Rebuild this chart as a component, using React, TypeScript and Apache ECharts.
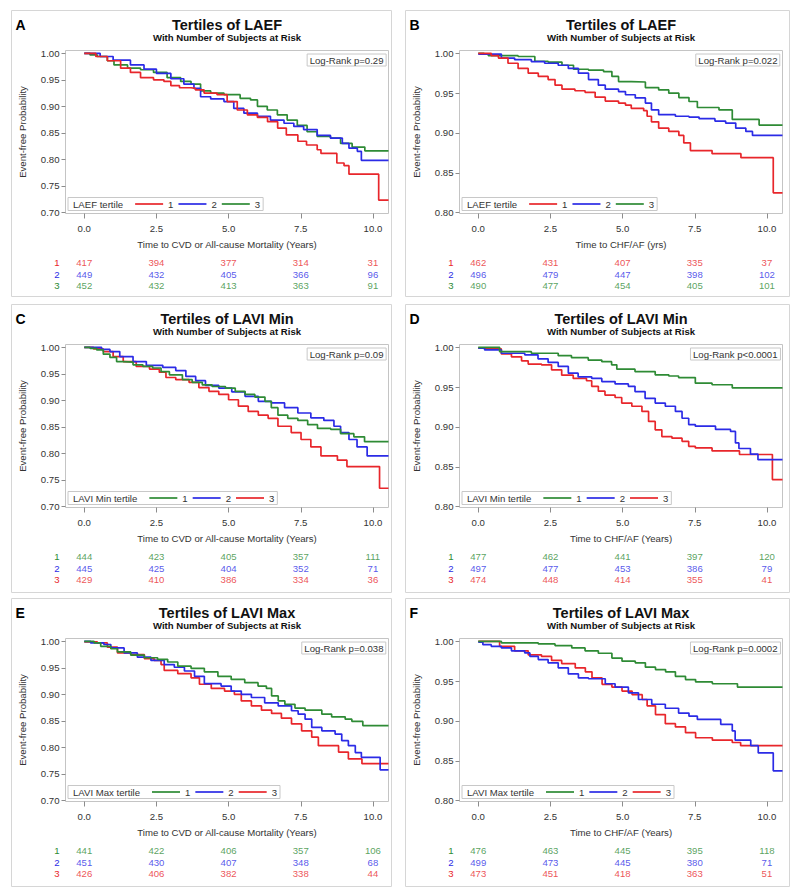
import React, { useEffect, useRef } from "react";
import * as echarts from "echarts";

type Pt = [number, number];

// ---------- axis ticks / categories ----------
const xTicks = [0, 2.5, 5, 7.5, 10];
const riskTimes = [0, 2.5, 5, 7.5, 10];
const yTicksCvd = [0.7, 0.75, 0.8, 0.85, 0.9, 0.95, 1.0];
const yTicksHf = [0.8, 0.85, 0.9, 0.95, 1.0];
const groupLabels = ["1", "2", "3"];

// ---------- Panel A: LAEF, CVD / all-cause mortality ----------
const laefCvd1: Pt[] = [[0,1],[0.4,0.994],[0.8,0.986],[1.26,0.972],[1.6,0.964],[1.95,0.954],[2.4,0.95],[2.76,0.947],[3.0,0.939],[3.3,0.935],[3.7,0.934],[3.85,0.931],[4.15,0.925],[4.6,0.922],[4.95,0.909],[5.3,0.893],[5.65,0.884],[6.0,0.879],[6.35,0.871],[6.7,0.859],[7.0,0.846],[7.4,0.834],[7.7,0.827],[8.07,0.818],[8.2,0.811],[8.75,0.793],[9.0,0.788],[9.17,0.772],[10.2,0.723],[10.54,0.723]];
const laefCvd2: Pt[] = [[0,1],[0.55,0.994],[1.0,0.987],[1.6,0.978],[2.07,0.97],[2.5,0.962],[3.0,0.952],[3.45,0.942],[3.8,0.934],[4.03,0.918],[4.38,0.914],[4.84,0.909],[5.18,0.896],[5.53,0.887],[6.0,0.881],[6.45,0.874],[6.92,0.868],[7.26,0.862],[7.6,0.856],[8.07,0.845],[8.53,0.84],[8.94,0.83],[9.17,0.821],[9.46,0.815],[9.6,0.798],[10.54,0.798]];
const laefCvd3: Pt[] = [[0,1],[0.2,0.997],[0.45,0.994],[0.8,0.986],[1.03,0.978],[1.5,0.972],[1.95,0.969],[2.4,0.964],[2.87,0.954],[3.34,0.947],[3.7,0.942],[4.03,0.929],[4.38,0.925],[4.84,0.922],[5.4,0.915],[5.76,0.912],[6.0,0.9],[6.34,0.893],[6.69,0.884],[7.03,0.874],[7.38,0.864],[7.72,0.852],[8.07,0.843],[8.53,0.84],[8.88,0.83],[9.28,0.823],[9.72,0.816],[10.54,0.816]];
const laefCvdRisk1 = [417, 394, 377, 314, 31];
const laefCvdRisk2 = [449, 432, 405, 366, 96];
const laefCvdRisk3 = [452, 432, 413, 363, 91];

// ---------- Panel B: LAEF, CHF/AF ----------
const laefHf1: Pt[] = [[0,1],[0.45,0.997],[0.7,0.994],[1.03,0.9875],[1.38,0.981],[1.73,0.975],[2.08,0.971],[2.42,0.967],[2.66,0.96],[2.9,0.955],[3.35,0.953],[3.7,0.951],[4.05,0.945],[4.4,0.94],[4.86,0.9375],[5.1,0.935],[5.3,0.931],[5.73,0.928],[5.85,0.921],[6.0,0.914],[6.25,0.906],[6.6,0.902],[6.95,0.897],[7.12,0.8875],[7.35,0.878],[8.1,0.874],[9.1,0.869],[10.22,0.825],[10.54,0.825]];
const laefHf2: Pt[] = [[0,0.999],[0.8,0.994],[1.26,0.992],[1.84,0.9895],[2.3,0.9875],[2.77,0.985],[3.12,0.981],[3.47,0.975],[3.82,0.967],[4.16,0.96],[4.4,0.955],[4.86,0.952],[5.1,0.948],[5.44,0.944],[5.79,0.9375],[6.0,0.929],[6.25,0.923],[6.83,0.921],[7.3,0.92],[7.65,0.918],[8.2,0.915],[8.57,0.9125],[8.92,0.906],[9.27,0.902],[9.5,0.897],[10.54,0.897]];
const laefHf3: Pt[] = [[0,1],[0.2,0.999],[0.35,0.997],[1.38,0.996],[1.96,0.99],[2.42,0.989],[2.9,0.985],[3.3,0.98],[3.82,0.979],[4.34,0.977],[4.63,0.971],[4.86,0.9645],[5.3,0.964],[5.79,0.957],[6.25,0.954],[6.6,0.95],[6.95,0.9445],[7.3,0.9395],[7.59,0.932],[8.34,0.929],[8.8,0.917],[9.73,0.91],[10.54,0.91]];
const laefHfRisk1 = [462, 431, 407, 335, 37];
const laefHfRisk2 = [496, 479, 447, 398, 102];
const laefHfRisk3 = [490, 477, 454, 405, 101];

// ---------- Panel C: LAVI Min, CVD / all-cause mortality ----------
const laviMinCvd1: Pt[] = [[0,1],[0.2,0.998],[0.43,0.995],[0.66,0.987],[0.89,0.981],[1.12,0.973],[1.35,0.972],[1.69,0.967],[2.03,0.964],[2.37,0.961],[2.66,0.954],[2.95,0.948],[3.4,0.939],[3.74,0.934],[4.09,0.929],[4.43,0.926],[4.89,0.923],[5.23,0.917],[5.57,0.911],[5.91,0.906],[6.26,0.898],[6.48,0.886],[6.71,0.872],[7.05,0.866],[7.4,0.862],[7.74,0.854],[8.08,0.847],[8.54,0.845],[8.88,0.837],[9.34,0.831],[9.71,0.822],[10.54,0.822]];
const laviMinCvd2: Pt[] = [[0,1],[0.6,0.996],[0.89,0.992],[1.23,0.9825],[1.69,0.973],[2.15,0.966],[2.72,0.962],[3.17,0.956],[3.52,0.945],[3.86,0.937],[4.2,0.928],[4.66,0.923],[5.11,0.916],[5.57,0.9075],[6.03,0.898],[6.48,0.895],[6.94,0.886],[7.4,0.876],[7.85,0.867],[8.3,0.862],[8.65,0.851],[8.88,0.839],[9.17,0.826],[9.45,0.812],[9.8,0.795],[10.54,0.795]];
const laviMinCvd3: Pt[] = [[0,1],[0.32,0.997],[0.66,0.992],[1.0,0.9825],[1.35,0.973],[1.8,0.964],[2.26,0.959],[2.6,0.953],[2.83,0.943],[3.17,0.939],[3.63,0.934],[3.97,0.924],[4.32,0.917],[4.66,0.911],[5.0,0.901],[5.34,0.889],[5.68,0.879],[6.03,0.872],[6.37,0.866],[6.71,0.851],[7.17,0.839],[7.51,0.826],[7.85,0.812],[8.2,0.795],[8.77,0.787],[9.1,0.775],[10.23,0.734],[10.54,0.734]];
const laviMinCvdRisk1 = [444, 423, 405, 357, 111];
const laviMinCvdRisk2 = [445, 425, 404, 352, 71];
const laviMinCvdRisk3 = [429, 410, 386, 334, 36];

// ---------- Panel D: LAVI Min, CHF/AF ----------
const laviMinHf1: Pt[] = [[0,1],[0.74,0.9945],[1.84,0.9925],[2.77,0.9895],[3.23,0.987],[3.81,0.984],[4.28,0.982],[4.62,0.978],[4.8,0.9725],[5.43,0.9695],[6.13,0.9655],[6.6,0.964],[6.94,0.962],[7.52,0.955],[8.1,0.953],[8.8,0.949],[10.54,0.949]];
const laviMinHf2: Pt[] = [[0,0.999],[0.22,0.9967],[0.8,0.9925],[1.61,0.9905],[2.07,0.9855],[2.42,0.981],[2.77,0.976],[3.12,0.9675],[3.46,0.963],[3.93,0.961],[4.28,0.957],[4.74,0.954],[5.2,0.951],[5.43,0.9445],[5.78,0.936],[6.13,0.93],[6.48,0.926],[6.83,0.9195],[7.06,0.911],[7.29,0.903],[7.52,0.901],[8.22,0.897],[8.74,0.8945],[8.91,0.88],[9.03,0.873],[9.43,0.866],[9.69,0.859],[10.54,0.859]];
const laviMinHf3: Pt[] = [[0,0.999],[0.45,0.998],[0.8,0.9917],[1.15,0.988],[1.5,0.983],[1.73,0.979],[2.19,0.978],[2.54,0.9717],[2.89,0.965],[3.29,0.961],[3.75,0.958],[3.93,0.951],[4.16,0.945],[4.39,0.94],[4.74,0.937],[4.97,0.93],[5.32,0.926],[5.67,0.9195],[5.9,0.907],[6.13,0.8965],[6.36,0.888],[6.71,0.886],[7.06,0.882],[7.29,0.8757],[7.52,0.8737],[8.1,0.87],[9.05,0.8655],[10.19,0.834],[10.54,0.834]];
const laviMinHfRisk1 = [477, 462, 441, 397, 120];
const laviMinHfRisk2 = [497, 477, 453, 386, 79];
const laviMinHfRisk3 = [474, 448, 414, 355, 41];

// ---------- Panel E: LAVI Max, CVD / all-cause mortality ----------
const laviMaxCvd1: Pt[] = [[0,1],[0.34,0.997],[0.57,0.9906],[0.92,0.986],[1.15,0.98],[1.61,0.974],[2.08,0.969],[2.54,0.966],[2.89,0.961],[3.24,0.953],[3.7,0.949],[4.16,0.9425],[4.63,0.934],[5.09,0.928],[5.56,0.922],[6.02,0.9156],[6.31,0.911],[6.49,0.897],[6.72,0.8875],[6.95,0.881],[7.3,0.874],[7.65,0.87],[8.23,0.8625],[8.57,0.8575],[9.04,0.853],[9.27,0.849],[9.65,0.841],[10.54,0.841]];
const laviMaxCvd2: Pt[] = [[0,1],[0.22,0.997],[0.68,0.994],[0.92,0.9875],[1.38,0.978],[1.84,0.97],[2.31,0.964],[2.77,0.956],[3.12,0.951],[3.47,0.944],[3.82,0.934],[4.16,0.92],[4.74,0.9156],[5.09,0.906],[5.44,0.9],[5.79,0.894],[6.25,0.884],[6.72,0.878],[7.18,0.869],[7.41,0.8625],[7.65,0.853],[7.88,0.8375],[8.23,0.831],[8.69,0.825],[8.92,0.8125],[9.15,0.803],[9.39,0.79],[9.6,0.781],[10.25,0.7575],[10.54,0.7575]];
const laviMaxCvd3: Pt[] = [[0,0.999],[0.45,0.997],[0.8,0.989],[1.15,0.978],[1.61,0.975],[2.08,0.9675],[2.42,0.964],[2.66,0.956],[2.77,0.945],[3.24,0.939],[3.7,0.931],[3.99,0.919],[4.4,0.911],[4.86,0.906],[5.2,0.9],[5.44,0.8875],[5.79,0.878],[6.14,0.87],[6.49,0.864],[6.83,0.855],[7.18,0.844],[7.53,0.831],[7.88,0.819],[8.11,0.803],[8.81,0.791],[9.15,0.778],[9.62,0.769],[10.54,0.769]];
const laviMaxCvdRisk1 = [441, 422, 406, 357, 106];
const laviMaxCvdRisk2 = [451, 430, 407, 348, 68];
const laviMaxCvdRisk3 = [426, 406, 382, 338, 44];

// ---------- Panel F: LAVI Max, CHF/AF ----------
const laviMaxHf1: Pt[] = [[0,1],[0.8,0.998],[2.08,0.9967],[2.66,0.9946],[3.24,0.9917],[3.7,0.988],[4.16,0.985],[4.63,0.979],[4.98,0.975],[5.44,0.973],[5.79,0.9675],[6.14,0.9645],[6.49,0.9617],[6.83,0.956],[7.18,0.952],[7.53,0.949],[8.11,0.9467],[8.98,0.9425],[10.54,0.9425]];
const laviMaxHf2: Pt[] = [[0,0.999],[0.16,0.9958],[0.45,0.9937],[0.8,0.9917],[1.15,0.988],[1.61,0.9854],[1.79,0.981],[2.08,0.977],[2.42,0.973],[2.77,0.9667],[3.12,0.959],[3.47,0.954],[3.82,0.953],[4.4,0.9467],[4.74,0.9425],[5.2,0.9354],[5.55,0.927],[6.01,0.921],[6.48,0.916],[6.94,0.91],[7.3,0.906],[7.59,0.902],[8.4,0.8958],[8.8,0.8875],[8.9,0.876],[9.44,0.869],[9.7,0.86],[10.22,0.8375],[10.54,0.8375]];
const laviMaxHf3: Pt[] = [[0,1],[0.74,0.9937],[1.26,0.988],[1.73,0.983],[2.19,0.981],[2.54,0.976],[2.89,0.972],[3.36,0.9667],[3.71,0.9617],[3.94,0.954],[4.29,0.946],[4.63,0.9425],[4.98,0.9375],[5.33,0.933],[5.68,0.927],[5.85,0.919],[6.14,0.908],[6.48,0.8967],[6.83,0.8925],[7.18,0.8854],[7.53,0.879],[8.11,0.876],[8.8,0.873],[9.09,0.869],[10.54,0.869]];
const laviMaxHfRisk1 = [476, 463, 445, 395, 118];
const laviMaxHfRisk2 = [499, 473, 445, 380, 71];
const laviMaxHfRisk3 = [473, 451, 418, 363, 51];

// ---------- styling ----------
const RED = "#e8262b";
const BLUE = "#2b2be6";
const GREEN = "#2e8b35";
const FONT = '"Liberation Sans", Arial, Helvetica, sans-serif';
const SMALL = 9.6;
const TXT = "#333333";

const cols = [
  { px: 11.5, pw: 380, l: 65.5, r: 388.5 },
  { px: 405.5, pw: 384, l: 459.5, r: 782.5 },
];
const rows = [
  { py: 10.5, ph: 286, t: 50.5, b: 213.5 },
  { py: 304.5, ph: 288, t: 344.5, b: 507.5 },
  { py: 598.5, ph: 288, t: 638.5, b: 801.5 },
];
const X_MIN = -0.65;
const X_MAX = 10.54;

const CVD = "Time to CVD or All-cause Mortality (Years)";

const panels = [
  { id: "A", col: 0, row: 0, title: "Tertiles of LAEF", legendTitle: "LAEF tertile", xName: CVD, logRank: "Log-Rank p=0.29", yMin: 0.6977, yMax: 1.0053, yTicks: yTicksCvd, curves: [laefCvd1, laefCvd2, laefCvd3], colors: [RED, BLUE, GREEN], risk: [laefCvdRisk1, laefCvdRisk2, laefCvdRisk3] },
  { id: "B", col: 1, row: 0, title: "Tertiles of LAEF", legendTitle: "LAEF tertile", xName: "Time to CHF/AF (yrs)", logRank: "Log-Rank p=0.022", yMin: 0.799, yMax: 1.0035, yTicks: yTicksHf, curves: [laefHf1, laefHf2, laefHf3], colors: [RED, BLUE, GREEN], risk: [laefHfRisk1, laefHfRisk2, laefHfRisk3] },
  { id: "C", col: 0, row: 1, title: "Tertiles of LAVI Min", legendTitle: "LAVI Min tertile", xName: CVD, logRank: "Log-Rank p=0.09", yMin: 0.6977, yMax: 1.0053, yTicks: yTicksCvd, curves: [laviMinCvd1, laviMinCvd2, laviMinCvd3], colors: [GREEN, BLUE, RED], risk: [laviMinCvdRisk1, laviMinCvdRisk2, laviMinCvdRisk3] },
  { id: "D", col: 1, row: 1, title: "Tertiles of LAVI Min", legendTitle: "LAVI Min tertile", xName: "Time to CHF/AF (Years)", logRank: "Log-Rank p<0.0001", yMin: 0.799, yMax: 1.0035, yTicks: yTicksHf, curves: [laviMinHf1, laviMinHf2, laviMinHf3], colors: [GREEN, BLUE, RED], risk: [laviMinHfRisk1, laviMinHfRisk2, laviMinHfRisk3] },
  { id: "E", col: 0, row: 2, title: "Tertiles of LAVI Max", legendTitle: "LAVI Max tertile", xName: CVD, logRank: "Log-Rank p=0.038", yMin: 0.6977, yMax: 1.0053, yTicks: yTicksCvd, curves: [laviMaxCvd1, laviMaxCvd2, laviMaxCvd3], colors: [GREEN, BLUE, RED], risk: [laviMaxCvdRisk1, laviMaxCvdRisk2, laviMaxCvdRisk3] },
  { id: "F", col: 1, row: 2, title: "Tertiles of LAVI Max", legendTitle: "LAVI Max tertile", xName: "Time to CHF/AF (Years)", logRank: "Log-Rank p=0.0002", yMin: 0.799, yMax: 1.0035, yTicks: yTicksHf, curves: [laviMaxHf1, laviMaxHf2, laviMaxHf3], colors: [GREEN, BLUE, RED], risk: [laviMaxHfRisk1, laviMaxHfRisk2, laviMaxHfRisk3] },
];

function measure(text: string, size: number, weight = "normal"): number {
  const cv = document.createElement("canvas");
  const ctx = cv.getContext("2d");
  if (!ctx) return text.length * size * 0.5;
  ctx.font = `${weight} ${size}px ${FONT}`;
  return ctx.measureText(text).width;
}

function buildOption(): any {
  const grid: any[] = [];
  const xAxis: any[] = [];
  const yAxis: any[] = [];
  const series: any[] = [];
  const legend: any[] = [];
  const title: any[] = [];
  const graphic: any[] = [];

  panels.forEach((p) => {
    const c = cols[p.col];
    const r = rows[p.row];
    const w = c.r - c.l;
    const h = r.b - r.t;
    const cx = (c.l + c.r) / 2;

    // panel frame
    graphic.push({
      type: "rect",
      silent: true,
      shape: { x: c.px, y: r.py, width: c.pw, height: r.ph },
      style: { fill: "none", stroke: "#d6d6d6", lineWidth: 1 },
      z: 0,
    });
    // panel letter
    graphic.push({
      type: "text",
      silent: true,
      x: c.px + 4,
      y: r.py + 14,
      style: { text: p.id, fill: "#000", fontSize: 14, fontWeight: "bold", fontFamily: FONT, align: "left", verticalAlign: "middle" },
    });

    // main title + subtitle
    title.push({
      text: p.title,
      subtext: "With Number of Subjects at Risk",
      left: cx,
      top: r.py + 7,
      textAlign: "center",
      textVerticalAlign: "top",
      padding: 0,
      itemGap: 0,
      textStyle: { fontSize: 14.5, fontWeight: "bold", color: "#111", fontFamily: FONT },
      subtextStyle: { fontSize: SMALL, fontWeight: "bold", color: "#111", fontFamily: FONT },
    });
    // log-rank box
    title.push({
      text: p.logRank,
      right: 800 - (c.r - 2),
      top: r.t + 3.5,
      textAlign: "left",
      textVerticalAlign: "top",
      padding: [1.5, 3, 1, 3],
      borderColor: "#c8c8c8",
      borderWidth: 1,
      textStyle: { fontSize: SMALL, fontWeight: "normal", color: TXT, fontFamily: FONT },
    });

    // plot grid
    const gi = grid.length;
    grid.push({ left: c.l, top: r.t, width: w, height: h, show: true, borderColor: "#c4c4c4", borderWidth: 1, backgroundColor: "transparent" });
    xAxis.push({
      type: "value",
      gridIndex: gi,
      position: "bottom",
      min: X_MIN,
      max: X_MAX,
      name: p.xName,
      nameLocation: "middle",
      nameGap: 25.5,
      nameTextStyle: { fontSize: SMALL, color: TXT, fontFamily: FONT },
      axisLine: { show: false, onZero: false },
      axisTick: { show: true, length: 5, lineStyle: { color: "#8c8c8c" }, customValues: xTicks },
      axisLabel: { customValues: xTicks, formatter: (v: number) => v.toFixed(1), fontSize: SMALL, color: TXT, margin: 10, fontFamily: FONT },
      splitLine: { show: false },
      minorTick: { show: false },
    });
    yAxis.push({
      type: "value",
      gridIndex: gi,
      position: "left",
      min: p.yMin,
      max: p.yMax,
      name: "Event-free Probability",
      nameLocation: "middle",
      nameRotate: 90,
      nameGap: 38.5,
      nameTextStyle: { fontSize: SMALL, color: TXT, fontFamily: FONT },
      axisLine: { show: false, onZero: false },
      axisTick: { show: true, length: 4, lineStyle: { color: "#8c8c8c" }, customValues: p.yTicks },
      axisLabel: { customValues: p.yTicks, formatter: (v: number) => v.toFixed(2), fontSize: SMALL, color: TXT, margin: 6, fontFamily: FONT },
      splitLine: { show: false },
    });
    p.curves.forEach((d, k) => {
      series.push({
        type: "line",
        name: `${p.id}-${groupLabels[k]}`,
        xAxisIndex: gi,
        yAxisIndex: gi,
        data: d,
        step: "end",
        symbol: "none",
        showSymbol: false,
        lineStyle: { color: p.colors[k], width: 1.7 },
        itemStyle: { color: p.colors[k] },
        silent: true,
        z: 3 - k,
      });
    });

    // legend
    const legTop = r.b - 2 - 14;
    const legLeft = c.l + 2.5;
    const tw = measure(p.legendTitle, SMALL);
    legend.push({
      left: legLeft,
      top: legTop,
      data: groupLabels.map((g) => `${p.id}-${g}`),
      formatter: (n: string) => n.split("-")[1],
      orient: "horizontal",
      icon: "rect",
      itemWidth: 28,
      itemHeight: 1.7,
      itemGap: 5,
      padding: [1, 3, 1, 5 + tw + 12],
      borderColor: "#c8c8c8",
      borderWidth: 1,
      backgroundColor: "#ffffff",
      selectedMode: false,
      textStyle: { fontSize: SMALL, color: TXT, fontFamily: FONT, lineHeight: 11 },
    });
    graphic.push({
      type: "text",
      silent: true,
      x: legLeft + 5,
      y: legTop + 7,
      z: 100,
      style: { text: p.legendTitle, fill: TXT, fontSize: SMALL, fontFamily: FONT, align: "left", verticalAlign: "middle" },
    });

    // at-risk table grid
    const ri = grid.length;
    grid.push({ left: c.l, top: r.b + 43, width: w, height: 35, show: false });
    xAxis.push({ type: "value", gridIndex: ri, min: X_MIN, max: X_MAX, show: false });
    yAxis.push({
      type: "category",
      gridIndex: ri,
      data: groupLabels,
      inverse: true,
      axisLine: { show: false, onZero: false },
      axisTick: { show: false },
      splitLine: { show: false },
      axisLabel: {
        interval: 0,
        fontSize: SMALL,
        margin: 6,
        fontFamily: FONT,
        color: (v: string) => p.colors[groupLabels.indexOf(String(v))] || TXT,
      },
    });
    p.risk.forEach((vals, k) => {
      series.push({
        type: "scatter",
        name: `${p.id}-risk-${groupLabels[k]}`,
        xAxisIndex: ri,
        yAxisIndex: ri,
        symbolSize: 1,
        itemStyle: { color: "rgba(0,0,0,0)" },
        silent: true,
        data: riskTimes.map((t, j) => [t, groupLabels[k], vals[j]]),
        label: {
          show: true,
          position: "inside",
          formatter: (pp: any) => String(pp.value[2]),
          color: p.colors[k],
          fontSize: SMALL,
          fontFamily: FONT,
        },
      });
    });
  });

  return {
    animation: false,
    backgroundColor: "#ffffff",
    textStyle: { fontFamily: FONT },
    tooltip: { show: false },
    title,
    legend,
    grid,
    xAxis,
    yAxis,
    series,
    graphic,
  };
}

export default function App() {
  const ref = useRef<HTMLDivElement>(null);
  useEffect(() => {
    if (!ref.current) return;
    const chart = echarts.init(ref.current, null, { renderer: "svg" });
    chart.setOption(buildOption());
    return () => {
      chart.dispose();
    };
  }, []);
  return (
    <div
      ref={ref}
      style={{ position: "absolute", left: 0, top: 0, width: 800, height: 894, background: "#fff" }}
    />
  );
}
